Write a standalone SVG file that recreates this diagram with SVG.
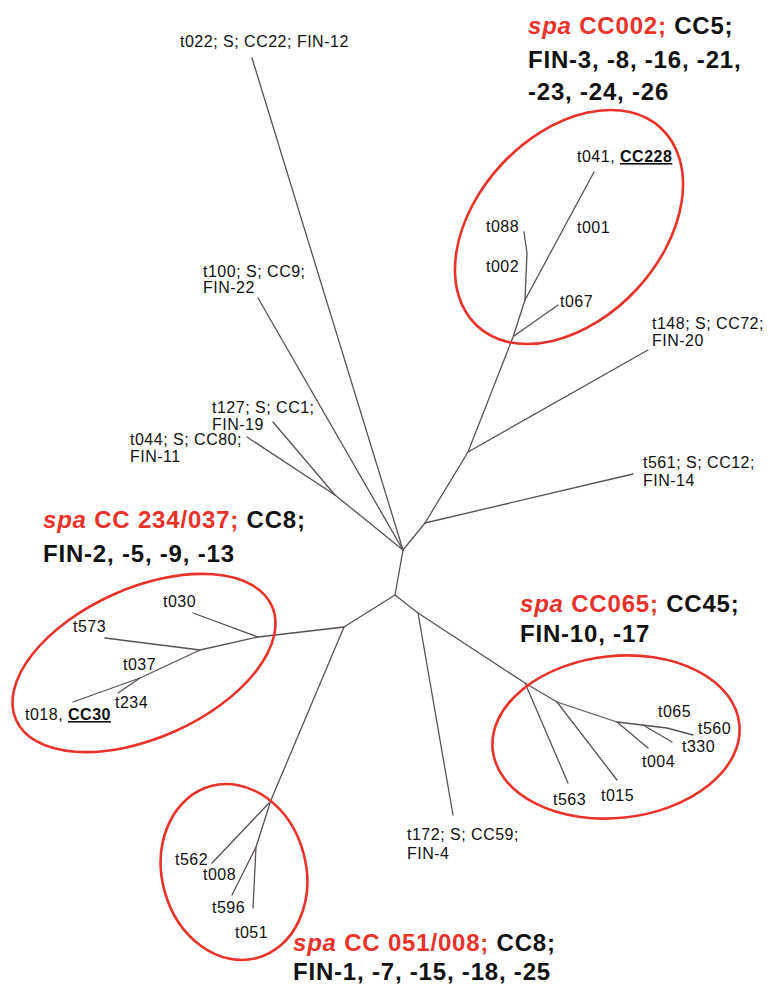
<svg xmlns="http://www.w3.org/2000/svg" width="773" height="987" viewBox="0 0 773 987">
<style>
.bg{fill:#ffffff}
.br{fill:none;stroke:#5a5050;stroke-width:1.3;stroke-linecap:round;stroke-linejoin:round}
.ring{fill:none;stroke:#e8322a;stroke-width:2.6}
.lb{font-family:"Liberation Sans",Arial,sans-serif;font-size:16px;letter-spacing:0.5px;fill:#111}
.u{font-weight:bold;text-decoration:underline}
.hd{font-family:"Liberation Sans",Arial,sans-serif;font-size:24px;font-weight:bold;letter-spacing:0.8px;fill:#111}
.red{fill:#e8322a}
.it{font-style:italic}
</style>
<rect class="bg" x="0" y="0" width="773" height="987"/>

<g id="connectors">
  <!-- central spine -->
  <polyline class="br" points="252,58 403,550"/>
  <polyline class="br" points="258,298 403,550"/>
  <polyline class="br" points="273,422 335,495 403,550"/>
  <polyline class="br" points="247,437 335,495"/>
  <polyline class="br" points="403,550 425,523 468,452 513,337 525,300 594,172"/>
  <polyline class="br" points="425,523 633,474"/>
  <polyline class="br" points="468,452 648,350"/>
  <polyline class="br" points="514,336 558,305"/>
  <polyline class="br" points="525,300 527,253 524,232"/>
  <polyline class="br" points="403,550 395,595 344,627 258,637"/>
  <!-- left cluster -->
  <polyline class="br" points="258,637 193,613"/>
  <polyline class="br" points="258,637 200,650 140,678 73,702"/>
  <polyline class="br" points="200,650 105,638"/>
  <polyline class="br" points="140,678 118,693"/>
  <!-- bottom cluster -->
  <polyline class="br" points="344,627 271,800 256,847 253,908"/>
  <polyline class="br" points="269,803 212,863"/>
  <polyline class="br" points="256,847 232,895"/>
  <!-- right side -->
  <polyline class="br" points="395,595 418,613 525,683 557,702 617,722 667,728 693,735"/>
  <polyline class="br" points="418,613 453,815"/>
  <polyline class="br" points="525,683 568,783"/>
  <polyline class="br" points="557,702 617,780"/>
  <polyline class="br" points="617,722 648,748"/>
  <polyline class="br" points="643,725 672,742"/>
</g>

<g id="cluster-cc002">
  <ellipse class="ring" cx="569" cy="227" rx="135" ry="92" transform="rotate(-47 569 227)"/>
  <text class="hd" x="528" y="34"><tspan class="red it">spa</tspan><tspan class="red"> CC002;</tspan> CC5;</text>
  <text class="hd" x="528" y="68">FIN-3, -8, -16, -21,</text>
  <text class="hd" x="528" y="100">-23, -24, -26</text>
  <text class="lb" x="577" y="162">t041, <tspan class="u">CC228</tspan></text>
  <text class="lb" x="486" y="232">t088</text>
  <text class="lb" x="577" y="233">t001</text>
  <text class="lb" x="486" y="272">t002</text>
  <text class="lb" x="560" y="307">t067</text>
</g>

<g id="cluster-cc234">
  <ellipse class="ring" cx="144" cy="663" rx="140" ry="75" transform="rotate(-24 144 663)"/>
  <text class="hd" x="43" y="528"><tspan class="red it">spa</tspan><tspan class="red"> CC 234/037;</tspan> CC8;</text>
  <text class="hd" x="43" y="562">FIN-2, -5, -9, -13</text>
  <text class="lb" x="163" y="607">t030</text>
  <text class="lb" x="73" y="632">t573</text>
  <text class="lb" x="123" y="670">t037</text>
  <text class="lb" x="115" y="708">t234</text>
  <text class="lb" x="25" y="720">t018, <tspan class="u">CC30</tspan></text>
</g>

<g id="cluster-cc051">
  <ellipse class="ring" cx="234" cy="872" rx="72" ry="89" transform="rotate(-15 234 872)"/>
  <text class="hd" x="293" y="951"><tspan class="red it">spa</tspan><tspan class="red"> CC 051/008;</tspan> CC8;</text>
  <text class="hd" x="293" y="980">FIN-1, -7, -15, -18, -25</text>
  <text class="lb" x="175" y="865">t562</text>
  <text class="lb" x="203" y="880">t008</text>
  <text class="lb" x="212" y="913">t596</text>
  <text class="lb" x="235" y="938">t051</text>
</g>

<g id="cluster-cc065">
  <ellipse class="ring" cx="616" cy="737" rx="124" ry="81" transform="rotate(-6 616 737)"/>
  <text class="hd" x="520" y="612"><tspan class="red it">spa</tspan><tspan class="red"> CC065;</tspan> CC45;</text>
  <text class="hd" x="520" y="642">FIN-10, -17</text>
  <text class="lb" x="658" y="717">t065</text>
  <text class="lb" x="698" y="734">t560</text>
  <text class="lb" x="682" y="752">t330</text>
  <text class="lb" x="642" y="767">t004</text>
  <text class="lb" x="601" y="801">t015</text>
  <text class="lb" x="553" y="805">t563</text>
</g>

<g id="node-t022"><text class="lb" x="180" y="47">t022; S; CC22; FIN-12</text></g>
<g id="node-t100"><text class="lb" x="203" y="277">t100; S; CC9;</text><text class="lb" x="203" y="293">FIN-22</text></g>
<g id="node-t127"><text class="lb" x="212" y="413">t127; S; CC1;</text><text class="lb" x="212" y="430">FIN-19</text></g>
<g id="node-t044"><text class="lb" x="130" y="445">t044; S; CC80;</text><text class="lb" x="130" y="462">FIN-11</text></g>
<g id="node-t148"><text class="lb" x="652" y="329">t148; S; CC72;</text><text class="lb" x="652" y="346">FIN-20</text></g>
<g id="node-t561"><text class="lb" x="643" y="468">t561; S; CC12;</text><text class="lb" x="643" y="486">FIN-14</text></g>
<g id="node-t172"><text class="lb" x="407" y="840">t172; S; CC59;</text><text class="lb" x="407" y="859">FIN-4</text></g>
</svg>
